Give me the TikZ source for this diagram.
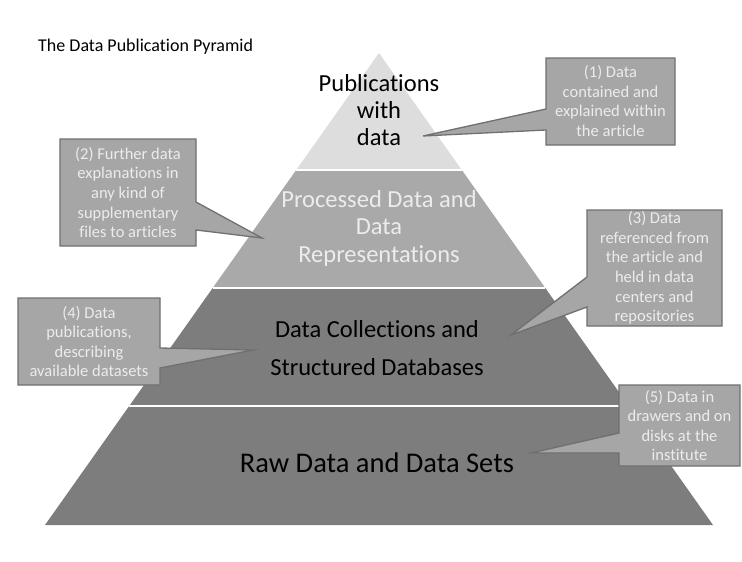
\documentclass[tikz,border=0pt]{standalone}
\usepackage{fontspec}
\setmainfont{Carlito}[Ligatures=NoCommon]
\definecolor{layerA}{HTML}{DDDDDD}
\definecolor{layerB}{HTML}{A9A9A9}
\definecolor{layerC}{HTML}{7D7D7D}
\definecolor{callfill}{HTML}{A6A6A6}
\definecolor{callline}{HTML}{707070}
\definecolor{lighttext}{HTML}{ECECEC}
\tikzset{
  callbox/.style={fill=callfill, draw=callline, line width=1.3pt, line join=miter},
  calltext/.style={text=lighttext, align=center, inner sep=0pt, font=\fontsize{16.5}{19.6}\selectfont},
  layertext/.style={align=center, inner sep=0pt},
  sepline/.style={white, line width=2.5pt}
}
\begin{document}
\begin{tikzpicture}[x=1pt,y=-1pt]
\useasboundingbox (0,0) rectangle (742,562);
\fill[white] (0,0) rectangle (742,562);
% pyramid coordinates
\coordinate (apex) at (379,53);
\coordinate (l1) at (296.2,170); \coordinate (r1) at (461.8,170);
\coordinate (l2) at (212.7,288); \coordinate (r2) at (545.3,288);
\coordinate (l3) at (129.2,406); \coordinate (r3) at (628.8,406);
\coordinate (l4) at (45,525);    \coordinate (r4) at (713,525);
\fill[layerA] (apex) -- (r1) -- (l1) -- cycle;
\fill[layerB] (l1) -- (r1) -- (r2) -- (l2) -- cycle;
\fill[layerC] (l2) -- (r2) -- (r3) -- (l3) -- cycle;
\fill[layerC] (l3) -- (r3) -- (r4) -- (l4) -- cycle;
\draw[sepline] (l1) -- (r1);
\draw[sepline] (l2) -- (r2);
\draw[sepline] (l3) -- (r3);
% title
\node[anchor=west, inner sep=0pt, font=\fontsize{18}{20}\selectfont] (title) at (38,47) {The Data Publication Pyramid};
% layer texts
\node[layertext, font=\fontsize{24.5}{27}\selectfont] (t1) at (379,110) {Publications\\with\\data};
\node[layertext, text=lighttext, font=\fontsize{24.5}{27.5}\selectfont] (t2) at (379,228) {Processed Data and\\Data\\Representations};
\node[layertext, font=\fontsize{24.5}{38}\selectfont] (t3) at (377,348) {Data Collections and\\Structured Databases};
\node[layertext, font=\fontsize{28.5}{32}\selectfont] (t4) at (377,463) {Raw Data and Data Sets};
% callouts
\coordinate (p1) at (423,136);
\coordinate (p2) at (262,238);
\coordinate (p3) at (511,335);
\coordinate (p4) at (253,350);
\coordinate (p5) at (531,453);
\draw[callbox] (546,58) -- (675,58) -- (675,145) -- (546,145) -- (546,130) -- (p1) -- (546,109) -- cycle;
\draw[callbox] (60,139) -- (196,139) -- (196,202) -- (p2) -- (196,230) -- (196,246) -- (60,246) -- cycle;
\draw[callbox] (587,210) -- (722,210) -- (722,326) -- (587,326) -- (587,307) -- (p3) -- (587,277) -- cycle;
\draw[callbox] (18,298) -- (160,298) -- (160,348) -- (p4) -- (160,368) -- (160,385) -- (18,385) -- cycle;
\draw[callbox] (619,385) -- (740,385) -- (740,466) -- (619,466) -- (619,453) -- (p5) -- (619,433) -- cycle;
\node[calltext] (c1) at (610.5,101) {(1) Data\\contained and\\explained within\\the article};
\node[calltext] (c2) at (128,192.5) {(2) Further data\\explanations in\\any kind of\\supplementary\\files to articles};
\node[calltext] (c3) at (654.5,268) {(3) Data\\referenced from\\the article and\\held in data\\centers and\\repositories};
\node[calltext] (c4) at (89,341.5) {(4) Data\\publications,\\describing\\available datasets};
\node[calltext] (c5) at (679.5,425.5) {(5) Data in\\drawers and on\\disks at the\\institute};
\end{tikzpicture}
\end{document}
